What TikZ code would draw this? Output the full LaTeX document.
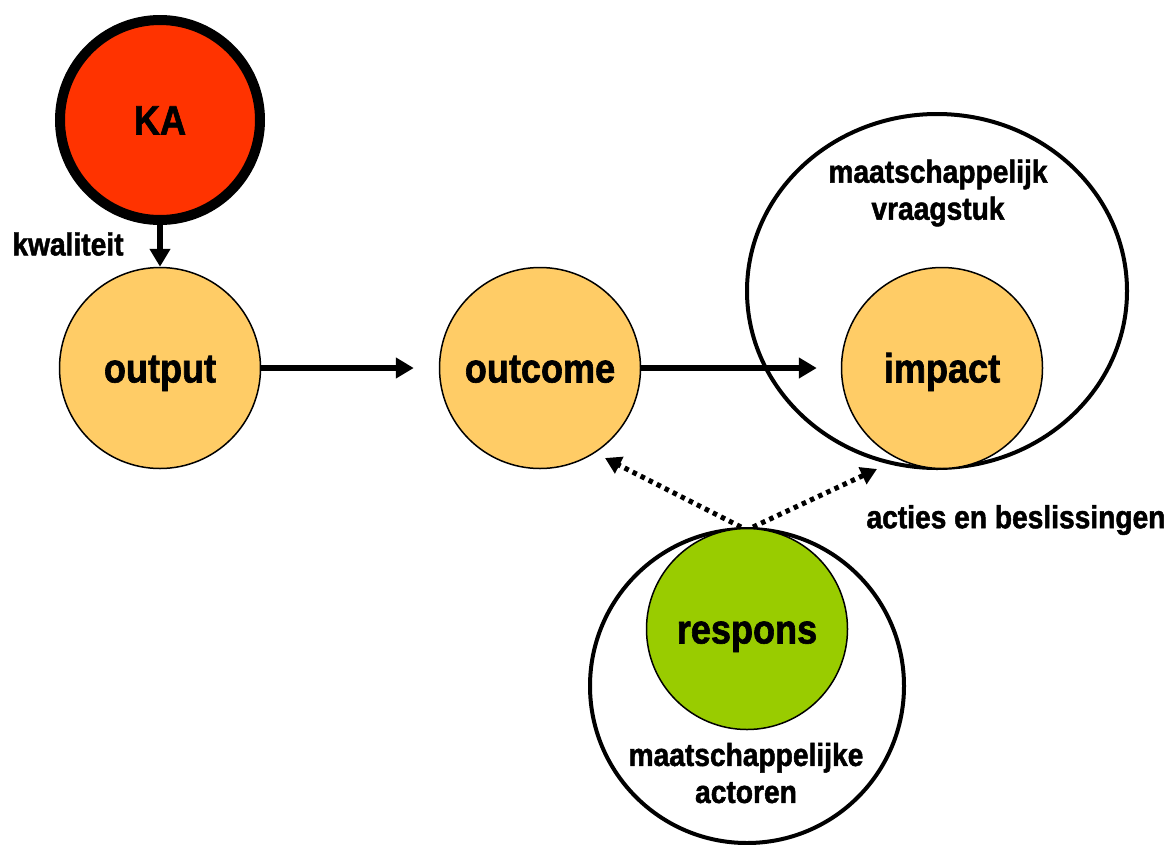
\documentclass[tikz,border=0pt]{standalone}
\usepackage{fontspec}
\newfontfamily\lblfont{Liberation Sans}[FakeStretch=0.88,FakeBold=1.5]
\usetikzlibrary{arrows.meta,shapes.geometric}
\definecolor{karood}{HTML}{FF3300}
\definecolor{oranje}{HTML}{FFCC66}
\definecolor{groen}{HTML}{99CC00}
\begin{document}
\begin{tikzpicture}[x=1pt,y=-1pt,
  bigtxt/.style={font=\lblfont\bfseries\fontsize{41}{45}\selectfont,text height=29pt,text depth=0pt},
  smalltxt/.style={font=\lblfont\bfseries\fontsize{32}{37}\selectfont,align=center},
  disc/.style={circle,draw=black,line width=1.5pt,minimum size=201pt,inner sep=0pt,bigtxt},
  ring/.style={draw=black,line width=4pt,inner sep=0pt},
  flow/.style={line width=6pt,-{Triangle[length=18pt,width=20pt]}},
  influence/.style={line width=5pt,dash pattern=on 4.5pt off 4.5pt,-{Triangle[length=16pt,width=18pt]}}
]
\useasboundingbox (0,0) rectangle (1169,844);

% outer containers
\node[ring,ellipse,minimum width=380pt,minimum height=354pt] (vraagstuk) at (937,291) {};
\node[ring,circle,minimum size=314pt] (actoren) at (747,686) {};

% main chain
\node[disc,fill=karood,line width=10pt,minimum size=200pt] (ka) at (160,120) {KA};
\node[disc,fill=oranje] (output) at (160,368) {output};
\node[disc,fill=oranje] (outcome) at (540,368) {outcome};
\node[disc,fill=oranje] (impact) at (942,368) {impact};
\node[disc,fill=groen] (respons) at (747,629) {respons};

% labels
\node[smalltxt] (kwal) at (68,244) {kwaliteit};
\node[smalltxt] (vrlbl) at (938,193) {maatschappelijk\\vraagstuk};
\node[smalltxt] (aclbl) at (746,773) {maatschappelijke\\actoren};
\node[smalltxt] (acties) at (1016,520) {acties en beslissingen};

% arrows
\draw[flow] (ka.south) -- (output.north);
\draw[flow] (output.east) -- ([xshift=-25pt]outcome.west);
\draw[flow] (outcome.east) -- ([xshift=-24pt]impact.west);

\coordinate (src) at (actoren.north);
\coordinate (toOutcome) at (605,458);
\coordinate (toImpact) at (877,469);
\draw[influence] ([xshift=-6pt]src) -- (toOutcome);
\draw[influence] ([xshift=6pt]src) -- (toImpact);
\end{tikzpicture}
\end{document}
